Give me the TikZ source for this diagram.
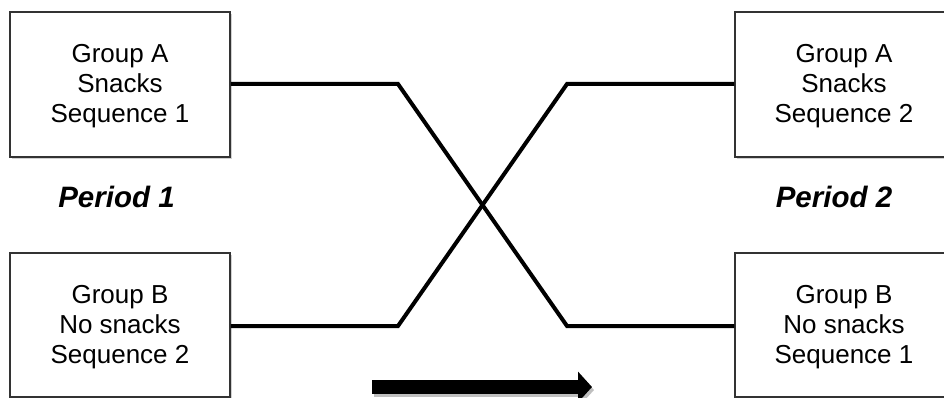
\documentclass[tikz,border=0pt]{standalone}
\usepackage{fontspec}
\setmainfont{Liberation Sans}
\usetikzlibrary{arrows.meta,calc}
\tikzset{
  grpbox/.style={draw=black!80, line width=1.5pt, fill=white, minimum width=220pt, minimum height=145pt, inner sep=0pt},
  grptxt/.style={align=center, font=\fontsize{26}{30}\selectfont, text=black, inner sep=0pt},
  perlbl/.style={font=\fontsize{29.5}{34}\selectfont\bfseries\itshape, inner sep=0pt},
  boxshadow/.style={fill=black!18, draw=none, minimum width=220pt, minimum height=145pt, inner sep=0pt},
  conn/.style={line width=4pt, line join=miter},
  bigarrow/.style={line width=14pt, -{Triangle[length=14pt,width=30pt]}}
}
\begin{document}
\begin{tikzpicture}[x=1pt,y=-1pt]
\useasboundingbox (0,0) rectangle (944,398);
\clip (0,0) rectangle (944,398);
\fill[white] (0,0) rectangle (944,398);
% box shadows
\node[boxshadow] at (121.5,86.5) {};
\node[boxshadow, minimum height=144pt] at (121.5,327) {};
\node[boxshadow, minimum width=218pt] at (845.5,86.5) {};
\node[boxshadow, minimum width=218pt, minimum height=144pt] at (845.5,327) {};
% boxes
\node[grpbox] (A1) at (120,84.5) {};
\node[grpbox, minimum height=144pt] (B1) at (120,325) {};
\node[grpbox, minimum width=218pt] (A2) at (844,84.5) {};
\node[grpbox, minimum width=218pt, minimum height=144pt] (B2) at (844,325) {};
% texts
\node[grptxt] (tA1) at (120,86) {Group A\\Snacks\\Sequence 1};
\node[grptxt] (tB1) at (120,327) {Group B\\No snacks\\Sequence 2};
\node[grptxt] (tA2) at (844,86) {Group A\\Snacks\\Sequence 2};
\node[grptxt] (tB2) at (844,327) {Group B\\No snacks\\Sequence 1};
% period labels
\node[perlbl] (P1) at (116.5,197) {Period 1};
\node[perlbl] (P2) at (834,197) {Period 2};
% crossing connectors
\coordinate (k1) at (398,84);
\coordinate (k2) at (567,326);
\coordinate (k3) at (398,326);
\coordinate (k4) at (567,84);
\draw[conn] (A1.east |- k1) -- (k1) -- (k2) -- (B2.west |- k2);
\draw[conn] (B1.east |- k3) -- (k3) -- (k4) -- (A2.west |- k4);
% time arrow
\coordinate (arrS) at (372,387);
\coordinate (arrE) at (592,387);
\draw[black!25, line width=14pt, -{Triangle[length=14pt,width=30pt]}] ($(arrS)+(2,3)$) -- ($(arrE)+(2,3)$);
\draw[bigarrow] (arrS) -- (arrE);
\end{tikzpicture}
\end{document}
